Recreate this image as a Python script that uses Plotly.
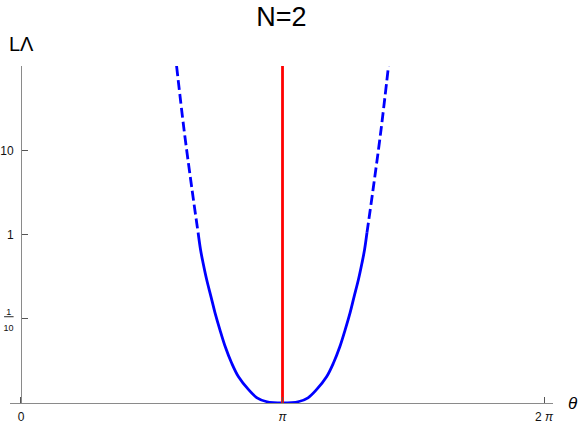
import numpy as np
import plotly.graph_objects as go

# values (theta in radians, L*Lambda)
theta_dash_left = [1.869, 1.959, 2.055, 2.128]
L_dash_left = [102, 17.7, 3.43, 1.056]

theta_solid = [2.128, 2.157, 2.187, 2.231, 2.283, 2.331, 2.390, 2.454, 2.529, 2.613,
               2.734, 2.836, 2.944, 3.142, 3.340, 3.448, 3.550, 3.671, 3.755, 3.830,
               3.894, 3.953, 4.001, 4.053, 4.097, 4.127, 4.156]
L_solid = [1.056, 0.663, 0.465, 0.292, 0.183, 0.118, 0.0741, 0.0466, 0.0301, 0.0205,
           0.0144, 0.01153, 0.01042, 0.0100, 0.01042, 0.01153, 0.0144, 0.0205, 0.0301, 0.0466,
           0.0741, 0.118, 0.183, 0.292, 0.465, 0.663, 1.056]

theta_dash_right = [4.156, 4.229, 4.325, 4.415]
L_dash_right = [1.056, 3.43, 17.7, 102]

theta_red = [np.pi, np.pi]
L_red = [0.01, 1000]

x_ticks = [0, np.pi, 2 * np.pi]
x_ticktext = ['0', '<i>π</i>', '2 <i>π</i>']
y_ticks = [0.1, 1, 10]
y_ticktext = ["<span style='font-size:9px'><u>\u20051\u2005</u><br>10</span>", '1', '10']

font = 'Liberation Sans, Arial, sans-serif'
blue = '#0000ff'

fig = go.Figure()

for tx, ty, dash in [(theta_dash_left, L_dash_left, '10px,4px'),
                     (theta_solid, L_solid, 'solid'),
                     (theta_dash_right, L_dash_right, '10px,4px')]:
    fig.add_trace(go.Scatter(
        x=tx, y=ty, mode='lines',
        line=dict(color=blue, width=2.8, dash=dash, shape='spline', smoothing=1),
        showlegend=False, hoverinfo='skip'
    ))

fig.add_trace(go.Scatter(
    x=theta_red, y=L_red, mode='lines',
    line=dict(color='#ff0000', width=2.8),
    showlegend=False, hoverinfo='skip'
))

fig.update_layout(
    width=581, height=426,
    margin=dict(l=10, r=28, t=66, b=23),
    plot_bgcolor='white', paper_bgcolor='white',
    font=dict(family=font, size=12, color='#111'),
    title=dict(text='N=2', x=0.5, xref='paper', xanchor='center',
               y=1 - 17 / 426, yref='container', yanchor='middle',
               font=dict(family=font, size=27, color='black')),
    xaxis=dict(
        range=[-0.132, 6.391], automargin=False,
        showgrid=False, zeroline=False,
        showline=True, linecolor='#8a8a8a', linewidth=1,
        ticks='inside', ticklen=6, tickcolor='#555', tickwidth=1,
        tickvals=x_ticks, ticktext=x_ticktext,
        ticklabelstandoff=3,
    ),
    yaxis=dict(
        type='log', range=[-2, 2.007], automargin=False,
        anchor='free', position=11 / 543,
        showgrid=False, zeroline=False,
        showline=True, linecolor='#8a8a8a', linewidth=1,
        ticks='inside', ticklen=6, tickcolor='#555', tickwidth=1,
        tickvals=y_ticks, ticktext=y_ticktext,
        ticklabelstandoff=5,
    ),
    annotations=[
        dict(text='LΛ', xref='paper', yref='paper', x=11 / 543, y=(403.4 - 44) / 337.4,
             xanchor='center', yanchor='middle', showarrow=False,
             font=dict(family=font, size=20, color='black')),
        dict(text='<i>θ</i>', xref='paper', yref='paper', x=(573 - 10) / 543, y=0,
             xanchor='center', yanchor='middle', showarrow=False,
             font=dict(family=font, size=17, color='black')),
    ],
)

# drop the default body margin so the figure sits at the page's top-left corner
fig.write_html('out.html', config={'displayModeBar': False},
               post_script="document.body.style.margin='0';")
